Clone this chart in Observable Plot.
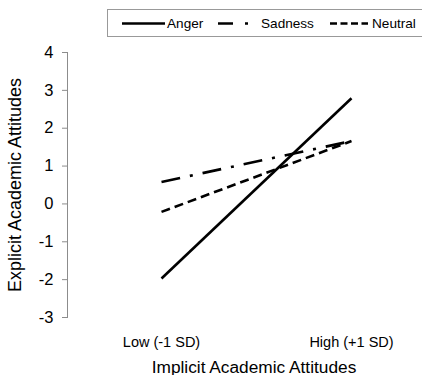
<!DOCTYPE html>
<html><head><meta charset="utf-8">
<script src="https://cdn.jsdelivr.net/npm/d3@7"></script>
<script src="https://cdn.jsdelivr.net/npm/@observablehq/plot@0.6"></script>
<style>
body{margin:0;background:#fff;overflow:hidden;font-family:"Liberation Sans",Arial,sans-serif}
#legend, #legend svg, #chart svg{display:block}
</style>
</head><body>
<div id="legend"></div>
<div id="chart"></div>
<script>
const levels = ["Low (-1 SD)", "High (+1 SD)"];
const groups = ["Anger", "Sadness", "Neutral"];
const anger = [-1.97, 2.79];
const sadness = [0.58, 1.66];
const neutral = [-0.21, 1.66];
const yTicks = [-3, -2, -1, 0, 1, 2, 3, 4];
const xTitle = "Implicit Academic Attitudes";
const yTitle = "Explicit Academic Attitudes";

const series = {Anger: anger, Sadness: sadness, Neutral: neutral};
const dashes = {Anger: null, Sadness: "19,10,3,10", Neutral: "9,5"};
const rows = groups.flatMap(g => levels.map((l, i) => ({group: g, level: l, value: series[g][i]})));

// Legend (above the plot)
const lg = d3.select("#legend").append("svg").attr("width", 422).attr("height", 40);
lg.append("rect").attr("x", 107.5).attr("y", 9.5).attr("width", 330).attr("height", 27)
  .attr("fill", "none").attr("stroke", "#999");
const legendItems = [
  {name: "Anger", x1: 122, x2: 165, tx: 167, dash: null},
  {name: "Sadness", x1: 218, x2: 248, tx: 261, dash: "15,12,3,100"},
  {name: "Neutral", x1: 330, x2: 368, tx: 372, dash: "7,3.5"}
];
for (const it of legendItems) {
  lg.append("line").attr("x1", it.x1).attr("x2", it.x2).attr("y1", 23.5).attr("y2", 23.5)
    .attr("stroke", "black").attr("stroke-width", 2.5).attr("stroke-dasharray", it.dash);
  lg.append("text").attr("x", it.tx).attr("y", 23.5).attr("dy", "0.35em")
    .attr("font-size", 13.6).attr("fill", "black").text(it.name);
}

const chart = Plot.plot({
  width: 422,
  height: 335,
  marginLeft: 67,
  marginRight: 0,
  marginTop: 12,
  marginBottom: 58,
  style: {fontFamily: "Liberation Sans, Arial, sans-serif", background: "white", color: "black"},
  x: {type: "point", domain: levels, range: [161, 351], padding: 0},
  y: {domain: [-3, 4]},
  marks: [
    Plot.frame({anchor: "left", stroke: "#8c8c8c"}),
    Plot.axisY({ticks: yTicks, tickSize: 5, tickPadding: 9, fontSize: 16.5, label: null,
      stroke: "#8c8c8c", fill: "black", tickFormat: d => String(d)}),
    Plot.axisX({tickSize: 0, tickPadding: 19, fontSize: 14.5, label: null, fill: "black"}),
    Plot.text([yTitle], {frameAnchor: "left", textAnchor: "middle", rotate: -90, dx: -52, fontSize: 18, fill: "black"}),
    Plot.text([xTitle], {frameAnchor: "bottom", dx: 9, dy: 55, fontSize: 17.3, fill: "black"}),
    ...groups.map(g => Plot.line(rows.filter(r => r.group === g), {
      x: "level", y: "value", stroke: "black", strokeWidth: 2.6,
      strokeDasharray: dashes[g], strokeLinecap: "butt"
    }))
  ]
});
document.getElementById("chart").appendChild(chart);
</script>
</body></html>
